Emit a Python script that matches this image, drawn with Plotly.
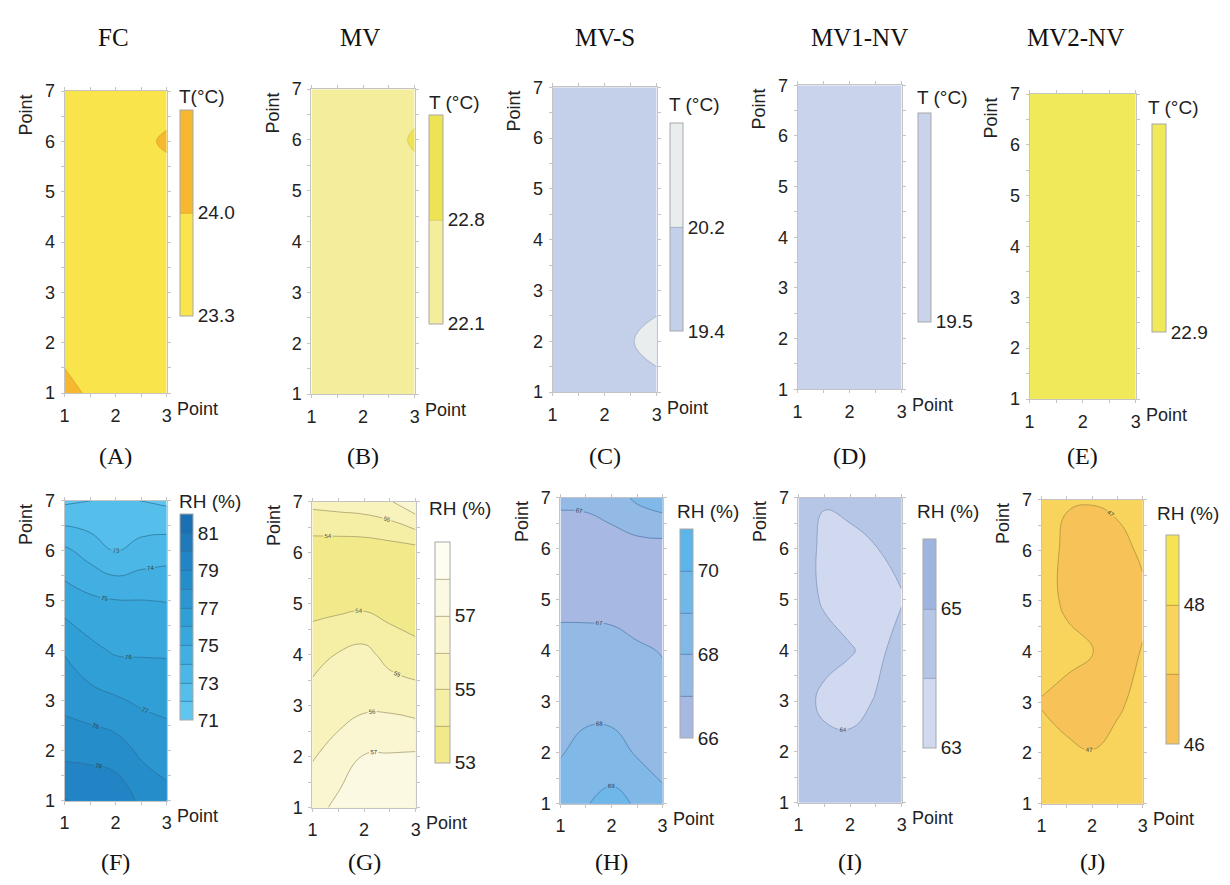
import plotly.graph_objects as go

# ---------------- data ----------------
x_points = [1, 1.5, 2, 2.5, 3]
y_points = [1, 2, 3, 4, 5, 6, 7]

column_titles = ["FC", "MV", "MV-S", "MV1-NV", "MV2-NV"]
panel_letters = ["(A)", "(B)", "(C)", "(D)", "(E)", "(F)", "(G)", "(H)", "(I)", "(J)"]

# Temperature (°C); rows = Point 1..7 (y), columns = Point 1, 1.5, 2, 2.5, 3 (x)
T_FC = [
    [24.70, 23.70, 23.72, 23.74, 23.75],
    [23.30, 23.68, 23.70, 23.72, 23.74],
    [23.62, 23.66, 23.68, 23.70, 23.72],
    [23.62, 23.65, 23.66, 23.68, 23.70],
    [23.64, 23.65, 23.66, 23.66, 23.30],
    [23.66, 23.67, 23.68, 23.70, 24.20],
    [23.68, 23.69, 23.70, 23.70, 23.30],
]
T_MV = [
    [22.40, 22.42, 22.44, 22.45, 22.46],
    [22.41, 22.43, 22.44, 22.45, 22.46],
    [22.42, 22.43, 22.45, 22.46, 22.47],
    [22.43, 22.44, 22.45, 22.46, 22.47],
    [22.44, 22.45, 22.46, 22.46, 22.30],
    [22.45, 22.46, 22.47, 22.40, 22.95],
    [22.46, 22.47, 22.48, 22.47, 22.30],
]
T_MVS = [
    [19.70, 19.68, 19.66, 19.70, 19.40],
    [19.72, 19.70, 19.70, 20.08, 21.00],
    [19.74, 19.72, 19.70, 19.70, 19.40],
    [19.75, 19.74, 19.72, 19.70, 19.68],
    [19.76, 19.75, 19.74, 19.72, 19.70],
    [19.78, 19.76, 19.75, 19.74, 19.72],
    [19.80, 19.78, 19.76, 19.75, 19.74],
]
T_MV1NV = [
    [19.52, 19.52, 19.53, 19.53, 19.54],
    [19.52, 19.53, 19.53, 19.54, 19.54],
    [19.53, 19.53, 19.54, 19.54, 19.55],
    [19.53, 19.54, 19.54, 19.55, 19.55],
    [19.54, 19.54, 19.55, 19.55, 19.56],
    [19.54, 19.55, 19.55, 19.56, 19.56],
    [19.55, 19.55, 19.56, 19.56, 19.57],
]
T_MV2NV = [
    [22.92, 22.92, 22.93, 22.93, 22.94],
    [22.92, 22.93, 22.93, 22.94, 22.94],
    [22.93, 22.93, 22.94, 22.94, 22.95],
    [22.93, 22.94, 22.94, 22.95, 22.95],
    [22.94, 22.94, 22.95, 22.95, 22.96],
    [22.94, 22.95, 22.95, 22.96, 22.96],
    [22.95, 22.95, 22.96, 22.96, 22.97],
]

# Relative humidity (%)
RH_FC = [
    [80.05, 79.80, 79.70, 78.80, 78.32],
    [78.71, 78.69, 78.47, 77.81, 77.52],
    [77.70, 77.38, 77.13, 76.85, 76.71],
    [76.92, 76.26, 75.88, 75.87, 75.87],
    [75.53, 75.21, 75.04, 75.02, 74.97],
    [74.21, 73.58, 72.95, 73.38, 73.58],
    [71.80, 71.98, 72.30, 71.98, 71.80],
]
RH_MV = [
    [56.60, 57.26, 57.50, 57.60, 57.60],
    [55.93, 56.40, 57.06, 57.09, 57.15],
    [55.32, 55.60, 55.81, 55.81, 55.61],
    [54.74, 55.05, 55.31, 54.65, 54.39],
    [53.60, 53.70, 53.77, 53.57, 53.28],
    [53.37, 53.33, 53.33, 53.43, 53.50],
    [55.29, 55.42, 55.55, 55.90, 56.83],
]
RH_MVS = [
    [68.50, 68.95, 69.30, 68.90, 68.40],
    [67.94, 68.30, 68.44, 67.90, 67.40],
    [67.60, 67.70, 67.56, 67.60, 67.30],
    [67.25, 67.35, 67.30, 67.15, 66.95],
    [66.80, 66.71, 66.70, 66.40, 66.50],
    [66.60, 66.55, 66.55, 66.60, 66.60],
    [67.13, 67.18, 67.50, 68.20, 68.60],
]
RH_MV1NV = [
    [64.50, 64.50, 64.45, 64.40, 64.40],
    [64.45, 64.30, 64.25, 64.30, 64.35],
    [64.40, 63.80, 63.70, 64.05, 64.30],
    [64.40, 64.30, 64.05, 63.80, 64.30],
    [64.40, 63.90, 63.70, 63.80, 63.95],
    [64.35, 63.85, 63.70, 63.98, 64.20],
    [64.30, 64.05, 64.30, 64.40, 64.45],
]
RH_MV2NV = [
    [47.60, 47.60, 47.50, 47.60, 47.70],
    [47.30, 47.15, 47.02, 47.20, 47.40],
    [46.95, 46.70, 46.70, 46.90, 47.20],
    [47.40, 47.25, 47.02, 46.60, 47.05],
    [47.35, 46.85, 46.60, 46.50, 46.80],
    [47.35, 46.85, 46.60, 46.70, 47.15],
    [47.50, 47.05, 47.05, 47.20, 47.45],
]

# colour-bar scales: (zmin, zmax, first level, last level, step, tick values, tick labels)
cb_T_FC = (23.3, 24.7, 24.0, 24.0, 0.7, [23.3, 24.0], ["23.3", "24.0"])
cb_T_MV = (22.1, 23.5, 22.8, 22.8, 0.7, [22.1, 22.8], ["22.1", "22.8"])
cb_T_MVS = (19.4, 21.0, 20.2, 20.2, 0.8, [19.4, 20.2], ["19.4", "20.2"])
cb_T_MV1NV = (19.5, 20.5, 20.0, 20.0, 0.5, [19.5], ["19.5"])
cb_T_MV2NV = (22.9, 23.9, 23.4, 23.4, 0.5, [22.9], ["22.9"])
cb_RH_FC = (71, 82, 72, 81, 1, [71, 73, 75, 77, 79, 81], ["71", "73", "75", "77", "79", "81"])
cb_RH_MV = (53, 59, 54, 58, 1, [53, 55, 57], ["53", "55", "57"])
cb_RH_MVS = (66, 71, 67, 70, 1, [66, 68, 70], ["66", "68", "70"])
cb_RH_MV1NV = (63, 66, 64, 65, 1, [63, 65], ["63", "65"])
cb_RH_MV2NV = (46, 49, 47, 48, 1, [46, 48], ["46", "48"])

cb_titles = ["T(°C)", "T (°C)", "T (°C)", "T (°C)", "T (°C)",
             "RH (%)", "RH (%)", "RH (%)", "RH (%)", "RH (%)"]

# ---------------- styling ----------------
W, H = 1230, 885
SANS = "Liberation Sans, Arial, sans-serif"
SERIF = "Liberation Serif, Times New Roman, serif"

colorscales = [
    [[0, "#f9e44c"], [1, "#f5b82f"]],
    [[0, "#f4ed9c"], [1, "#eee352"]],
    [[0, "#c4cfea"], [1, "#e9edee"]],
    [[0, "#c9d3eb"], [1, "#c9d3eb"]],
    [[0, "#f0e95a"], [1, "#f0e95a"]],
    [[0, "#60c6f0"], [0.25, "#45b3e4"], [0.5, "#2f9fd6"], [0.75, "#2489c8"], [1, "#1b6fb3"]],
    [[0, "#f2e98b"], [0.2, "#f5eea5"], [0.4, "#f8f2bc"], [0.6, "#faf6d1"], [0.8, "#fcf9e3"], [1, "#fefdf2"]],
    [[0, "#a7b9e2"], [0.25, "#93b9e5"], [0.5, "#80b8e7"], [0.75, "#6db7e9"], [1, "#5bb5ea"]],
    [[0, "#d0d9ef"], [0.5, "#b6c6e7"], [1, "#9fb4df"]],
    [[0, "#f7c257"], [0.5, "#f8d45c"], [1, "#f5e352"]],
]
line_colors = ["#d6a22a", "#cfc46a", "#98a4c0", "#c9d3eb", "#f0e95a",
               "#2f6f95", "#9c9466", "#4b77a8", "#7f8fb3", "#a58a3a"]
show_lines = [True, True, True, False, False, True, True, True, True, True]
show_labels = [False] * 5 + [True] * 5

# pixel boxes (left, right, top, bottom)
plot_boxes = [
    (60, 163, 83, 392), (309, 413, 81, 393), (552, 657, 79, 391), (799, 904, 77, 388), (1033, 1140, 86, 398),
    (60, 163, 502, 809), (310, 414, 503, 816), (560, 663, 499, 812), (800, 904, 499, 811), (1045, 1147, 501, 812),
]
cb_boxes = [
    (176, 189, 102, 308), (427, 441, 107, 316), (670, 683, 116, 324), (920, 933, 105, 314), (1156, 1170, 117, 325),
    (176, 189, 516, 722), (434, 449, 544, 765), (681, 694, 531, 740), (926, 939, 541, 750), (1171, 1184, 537, 746),
]
cb_title_pos = [(173, 89), (425, 95), (667, 97), (917, 90), (1150, 100),
                (173, 503), (425, 510), (675, 513), (917, 513), (1159, 515)]
title_x = [109, 358, 605, 862, 1079]


def px(x):
    return x / W


def py(y):
    return 1 - y / H


z_data = [T_FC, T_MV, T_MVS, T_MV1NV, T_MV2NV, RH_FC, RH_MV, RH_MVS, RH_MV1NV, RH_MV2NV]
cb_specs = [cb_T_FC, cb_T_MV, cb_T_MVS, cb_T_MV1NV, cb_T_MV2NV,
            cb_RH_FC, cb_RH_MV, cb_RH_MVS, cb_RH_MV1NV, cb_RH_MV2NV]

fig = go.Figure()
annotations = []
layout_axes = {}

for i in range(10):
    n = i + 1
    xs = "" if n == 1 else str(n)
    zmin, zmax, lstart, lend, lsize, tvals, ttext = cb_specs[i]
    l, r, t, b = plot_boxes[i]
    cl, cr, ct, cbm = cb_boxes[i]

    fig.add_trace(go.Contour(
        x=x_points, y=y_points, z=z_data[i],
        xaxis="x" + xs, yaxis="y" + xs,
        zmin=zmin, zmax=zmax, autocontour=False,
        contours=dict(start=lstart, end=lend, size=lsize, coloring="fill",
                      showlines=show_lines[i], showlabels=show_labels[i],
                      labelfont=dict(size=6, color="#333333", family=SANS)),
        line=dict(color=line_colors[i], width=0.7, smoothing=1.3),
        colorscale=colorscales[i],
        hoverinfo="skip",
        colorbar=dict(
            x=px(cl), xanchor="left", xpad=0,
            y=py(ct), yanchor="top", ypad=0,
            len=cbm - ct, lenmode="pixels",
            thickness=cr - cl, thicknessmode="pixels",
            outlinewidth=1, outlinecolor="#a8a8a8",
            tickmode="array", tickvals=tvals, ticktext=ttext,
            ticks="", ticklabelposition="outside",
            tickfont=dict(family=SANS, size=19, color="#222222"),
        ),
    ))

    axcommon = dict(showline=True, linecolor="#c4c4c4", linewidth=1, mirror="ticks",
                    ticks="outside", ticklen=3, tickcolor="#c4c4c4",
                    showgrid=False, zeroline=False,
                    tickfont=dict(family=SANS, size=18, color="#222222"),
                    minor=dict(ticks="outside", ticklen=3, tickcolor="#c4c4c4", dtick=0.5, showgrid=False))
    layout_axes["xaxis" + xs] = dict(domain=[px(l), px(r)], range=[1, 3], anchor="y" + xs,
                                     tickmode="array", tickvals=[1, 2, 3], ticklabelstandoff=3, **axcommon)
    layout_axes["yaxis" + xs] = dict(domain=[py(b), py(t)], range=[1, 7], anchor="x" + xs,
                                     tickmode="array", tickvals=y_points, ticklabelstandoff=2, **axcommon)

    # axis titles
    annotations.append(dict(text="Point", xref="paper", yref="paper",
                            x=px(r + 8), y=py(b + 16), xanchor="left", yanchor="middle",
                            showarrow=False, font=dict(family=SANS, size=18, color="#222222")))
    annotations.append(dict(text="Point", xref="paper", yref="paper", textangle=-90,
                            x=px(l - 39), y=py(t + 1), xanchor="center", yanchor="top",
                            showarrow=False, font=dict(family=SANS, size=18, color="#222222")))
    # colour-bar title
    tx, ty = cb_title_pos[i]
    annotations.append(dict(text=cb_titles[i], xref="paper", yref="paper",
                            x=px(tx), y=py(ty), xanchor="left", yanchor="middle",
                            showarrow=False, font=dict(family=SANS, size=19, color="#222222")))
    # panel letter
    ly = 456 if i < 5 else 872
    annotations.append(dict(text=panel_letters[i], xref="paper", yref="paper",
                            x=px((l + r) / 2), y=py(ly), xanchor="center", yanchor="middle",
                            showarrow=False, font=dict(family=SERIF, size=24, color="#111111")))

for k, title in enumerate(column_titles):
    annotations.append(dict(text=title, xref="paper", yref="paper",
                            x=px(title_x[k]), y=py(28), xanchor="center", yanchor="middle",
                            showarrow=False, font=dict(family=SERIF, size=25, color="#111111")))

fig.update_layout(
    width=W, height=H,
    margin=dict(l=0, r=0, t=0, b=0),
    paper_bgcolor="white", plot_bgcolor="white",
    showlegend=False,
    annotations=annotations,
    **layout_axes,
)

fig.write_html("out.html")
